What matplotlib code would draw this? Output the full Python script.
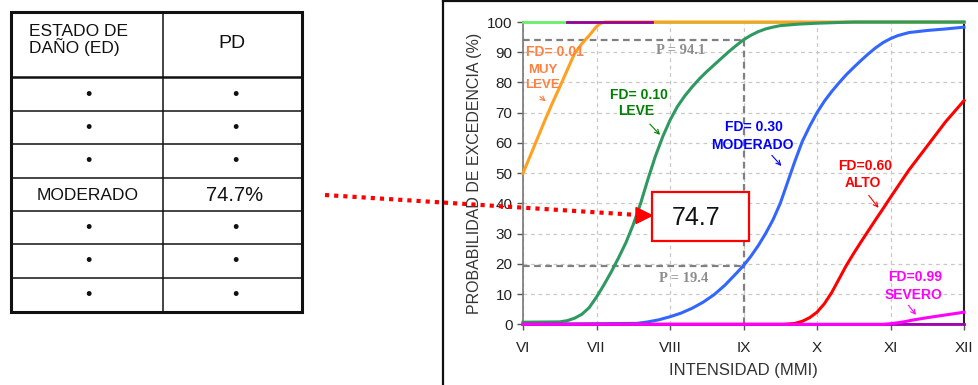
import matplotlib.pyplot as plt
from matplotlib.patches import Rectangle, Polygon

plt.rcParams['font.family'] = ['Liberation Sans', 'DejaVu Sans']

# ---- data ----
table_header = ['ESTADO DE\nDAÑO (ED)', 'PD']
table_col1 = ['•', '•', '•', 'MODERADO', '•', '•', '•']
table_col2 = ['•', '•', '•', '74.7%', '•', '•', '•']

x_ticks = [6, 7, 8, 9, 10, 11, 12]
x_labels = ['VI', 'VII', 'VIII', 'IX', 'X', 'XI', 'XII']
y_ticks = [0, 10, 20, 30, 40, 50, 60, 70, 80, 90, 100]

muy_leve_x = [6.0, 6.1, 6.2, 6.3, 6.4, 6.5, 6.6, 6.7, 6.8, 6.9, 7.0, 7.06, 7.12, 12.0]
muy_leve_y = [50, 55.8, 61.7, 67.6, 73.2, 78.5, 84, 89.5, 92.8, 95.5, 98.5, 99.6, 100, 100]

leve_x = [6.0, 6.5, 6.6, 6.7, 6.8, 6.9, 7.0, 7.1, 7.2, 7.3, 7.4, 7.5, 7.6, 7.7, 7.8, 7.9,
          8.0, 8.1, 8.2, 8.3, 8.4, 8.5, 8.6, 8.7, 8.8, 8.9, 9.0, 9.1, 9.2, 9.3, 9.4, 9.5,
          9.75, 10.0, 10.5, 12.0]
leve_y = [0.7, 0.8, 1.2, 2, 3.3, 5.5, 9, 13, 17.3, 22, 27, 33, 40, 48, 55.5, 62,
          67.5, 72, 75.5, 78.5, 81.2, 83.6, 85.8, 88, 90.2, 92.2, 94.1, 95.6, 96.8, 97.7, 98.3, 98.8,
          99.3, 99.6, 100, 100]

moderado_x = [6.0, 7.55, 7.7, 7.85, 8.0, 8.15, 8.3, 8.45, 8.6, 8.75, 8.9, 9.0, 9.1, 9.2,
              9.3, 9.4, 9.5, 9.6, 9.7, 9.8, 9.9, 10.0, 10.1, 10.2, 10.3, 10.4, 10.5, 10.6,
              10.7, 10.8, 10.9, 11.0, 11.1, 11.25, 11.5, 11.75, 12.0]
moderado_y = [0, 0.3, 0.8, 1.5, 2.5, 3.7, 5.3, 7.3, 9.8, 13, 16.8, 19.4, 22.5, 26,
              30, 34.5, 40, 47, 54, 60.5, 65.5, 70, 73.8, 77, 79.9, 82.6, 85, 87.3,
              89.5, 91.5, 93.2, 94.5, 95.5, 96.5, 97.2, 97.7, 98.3]

alto_x = [6.0, 9.55, 9.7, 9.8, 9.9, 10.0, 10.1, 10.2, 10.3, 10.4, 10.5, 10.6, 10.7,
          10.8, 10.9, 11.0, 11.25, 11.5, 11.75, 12.0]
alto_y = [0, 0, 0.3, 1, 2.2, 4, 6.8, 10.5, 15, 19.5, 23.5, 27.3, 31,
          34.7, 38.3, 42, 51, 59, 67, 74]

severo_x = [6.0, 10.9, 11.0, 11.1, 11.2, 11.3, 11.5, 11.75, 12.0]
severo_y = [0, 0, 0.2, 0.5, 0.9, 1.4, 2.2, 3.1, 4]

p_high = 94.1
p_low = 19.4
p_at = 9
pd_value = 74.7

W, H = 979, 385
fig = plt.figure(figsize=(W / 100, H / 100), dpi=100)
fig.patch.set_facecolor('white')

# ---- chart ----
ax = fig.add_axes([523 / W, 1 - 324.3 / H, 441 / W, 302.3 / H])
ax.set_xlim(6, 12)
ax.set_ylim(0, 100)
ax.set_xticks(x_ticks)
ax.set_xticklabels(x_labels)
ax.set_yticks(y_ticks)
ax.tick_params(colors='#555555', labelcolor='#222222', labelsize=11, length=4, width=1)
ax.tick_params(axis='x', pad=8)
ax.grid(True, color='#c8c8c8', linestyle=(0, (3, 3)), linewidth=0.9)
ax.set_axisbelow(True)
for s in ['left', 'bottom']:
    ax.spines[s].set_color('#777777')
    ax.spines[s].set_linewidth(1.2)
ax.spines['right'].set_color('#222222')
ax.spines['right'].set_linewidth(1.5)
ax.spines['top'].set_visible(False)

ax.set_xlabel('INTENSIDAD (MMI)', fontsize=12, color='#333333', labelpad=6)
ax.set_ylabel('PROBABILIDAD DE EXCEDENCIA (%)', fontsize=11.5, color='#333333', labelpad=4)

# reference lines
ax.plot([6, p_at], [p_high, p_high], color='#808080', lw=1.6, ls=(0, (3, 2)), zorder=2)
ax.plot([6, p_at], [p_low, p_low], color='#808080', lw=1.6, ls=(0, (3, 2)), zorder=2)
ax.plot([p_at, p_at], [0, p_high], color='#808080', lw=1.6, ls=(0, (3, 2)), zorder=2)
ax.text(8.15, 90.5, 'P = %.1f' % p_high, color='#8c8c8c', fontsize=10.5, fontweight='bold',
        family='Liberation Serif', ha='center', va='center')
ax.text(8.18, 15.3, 'P = %.1f' % p_low, color='#8c8c8c', fontsize=10.5, fontweight='bold',
        family='Liberation Serif', ha='center', va='center')

# curves
ax.plot([6, 12], [100, 100], color='#66ee66', lw=2, zorder=3, clip_on=False)
ax.plot(muy_leve_x, muy_leve_y, color='#ffa020', lw=2.2, zorder=4, clip_on=False)
ax.plot(leve_x, leve_y, color='#2e9960', lw=2.2, zorder=4, clip_on=False)
ax.plot([6.6, 7.75], [100, 100], color='#990099', lw=2, zorder=5, clip_on=False)
ax.plot(moderado_x, moderado_y, color='#3366ff', lw=2.2, zorder=4, clip_on=False)
ax.plot(alto_x, alto_y, color='#ff0000', lw=2.2, zorder=4, clip_on=False)
ax.plot([6, 12], [0, 0], color='#a000b0', lw=2, zorder=5, clip_on=False)
ax.plot(severo_x, severo_y, color='#ff00ff', lw=2.2, zorder=6, clip_on=False)

# curve labels
labels = [
    ('FD= 0.01', 6.44, 90, '#ff8040', 10),
    ('MUY', 6.27, 84.1, '#ff8040', 9.5),
    ('LEVE', 6.27, 79.2, '#ff8040', 9.5),
    ('FD= 0.10', 7.58, 75.9, '#008000', 10),
    ('LEVE', 7.54, 70.6, '#008000', 10),
    ('FD= 0.30', 9.14, 65.3, '#0000ff', 10),
    ('MODERADO', 9.12, 59.3, '#0000ff', 10),
    ('FD=0.60', 10.65, 52.3, '#ff0000', 10),
    ('ALTO', 10.63, 46.7, '#ff0000', 10),
    ('FD=0.99', 11.33, 15.6, '#ff00ff', 10),
    ('SEVERO', 11.31, 9.7, '#ff00ff', 10),
]
for t, x, y, c, fs in labels:
    ax.text(x, y, t, color=c, fontsize=fs, fontweight='bold', ha='center', va='center', zorder=7)

pointers = [
    ((6.20, 75.9), (6.34, 73.2), '#ff8040'),
    ((7.70, 66.9), (7.89, 62.0), '#008000'),
    ((9.36, 56.6), (9.54, 51.7), '#0000ff'),
    ((10.68, 43.4), (10.86, 37.8), '#ff0000'),
    ((11.22, 7.0), (11.37, 2.4), '#ff00ff'),
]
for a, b, c in pointers:
    ax.annotate('', xy=b, xytext=a, arrowprops=dict(arrowstyle='->', color=c, lw=0.8,
                                                    mutation_scale=8), zorder=7)

# value box
ax.add_patch(Rectangle((7.755, 27.5), 1.315, 16.2, facecolor='white', edgecolor='#ff0000',
                       lw=1.6, zorder=8, clip_on=False))
ax.text(8.36, 35, '%.1f' % pd_value, fontsize=18, ha='center', va='center', color='#111111', zorder=9)

# ---- overlay in pixel coordinates: table, frame, arrow ----
ov = fig.add_axes([0, 0, 1, 1])
ov.set_xlim(0, W)
ov.set_ylim(H, 0)
ov.axis('off')
ov.patch.set_visible(False)

# chart frame
ov.plot([443, 443], [0, H], color='#111111', lw=1.6)
ov.plot([443, W], [0.8, 0.8], color='#111111', lw=1.6)

# table
tx0, tx1, tmid = 11, 302, 163
ty0, ty1, thead = 12, 312, 77
row_lines = [111, 144, 178, 211, 244, 278]
ov.add_patch(Rectangle((tx0, ty0), tx1 - tx0, ty1 - ty0, fill=False, edgecolor='#111111', lw=2.2))
ov.plot([tmid, tmid], [ty0, ty1], color='#111111', lw=1.1)
ov.plot([tx0, tx1], [thead, thead], color='#111111', lw=1.8)
for yl in row_lines:
    ov.plot([tx0, tx1], [yl, yl], color='#111111', lw=1.1)

ov.text(29, 40, table_header[0], fontsize=12.5, ha='left', va='center', linespacing=0.95, color='#111111')
ov.text(232, 44, table_header[1], fontsize=14, ha='center', va='center', color='#111111')
rows_b = [thead] + row_lines
rows_e = row_lines + [ty1]
for i in range(len(table_col1)):
    yc = (rows_b[i] + rows_e[i]) / 2 + 1
    fs1 = 12.5 if table_col1[i] != '•' else 13
    fs2 = 14.5 if table_col2[i] != '•' else 13
    ov.text(88, yc, table_col1[i], fontsize=fs1, ha='center', va='center', color='#111111')
    ov.text(235, yc, table_col2[i], fontsize=fs2, ha='center', va='center', color='#111111')

# dotted red pointer to the chart
x0, y0 = 325, 195
x1, y1 = 638, 215
ov.plot([x0, x1], [y0, y1], color='#ff0000', lw=3, ls=(0, (1, 1.2)), solid_capstyle='butt')
ov.add_patch(Polygon([[636, 207.5], [652, 215.5], [636, 223.5]], closed=True,
                     facecolor='#ff0000', edgecolor='#ff0000'))

fig.savefig('out.png', dpi=100, facecolor='white')
